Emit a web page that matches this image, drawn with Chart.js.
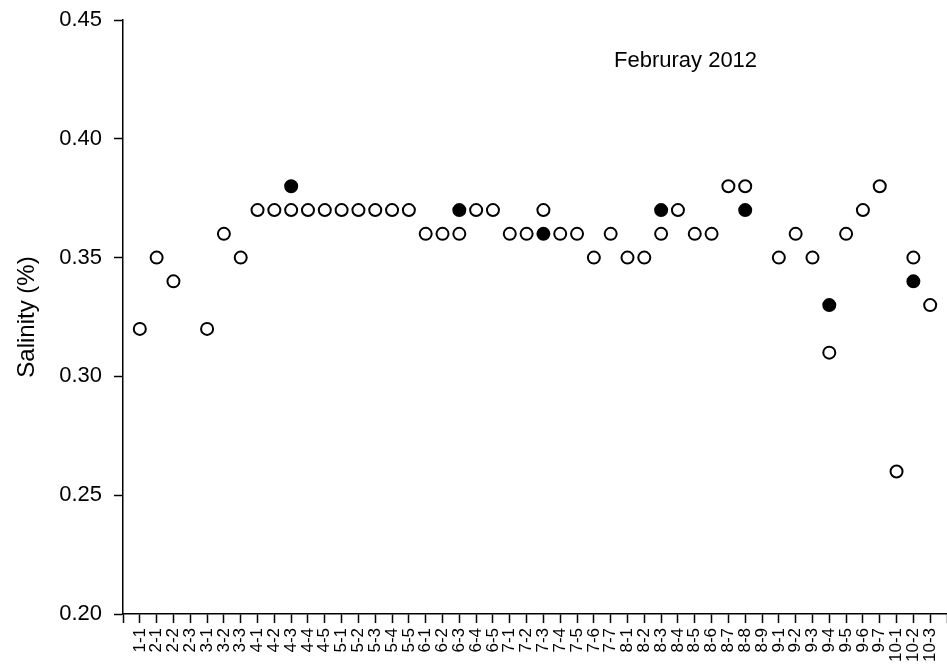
<!DOCTYPE html>
<html>
<head>
<meta charset="utf-8">
<script src="https://cdn.jsdelivr.net/npm/chart.js"></script>
<style>
    html, body { margin: 0; padding: 0; background: #fff; }
    #chart { display: block; }
</style>
</head>
<body>
<canvas id="chart" width="947" height="668"></canvas>
<script>
// sample stations (month-site)
const stations = ['1-1', '2-1', '2-2', '2-3', '3-1', '3-2', '3-3',
    '4-1', '4-2', '4-3', '4-4', '4-5', '5-1', '5-2', '5-3', '5-4', '5-5',
    '6-1', '6-2', '6-3', '6-4', '6-5', '7-1', '7-2', '7-3', '7-4', '7-5', '7-6', '7-7',
    '8-1', '8-2', '8-3', '8-4', '8-5', '8-6', '8-7', '8-8', '8-9',
    '9-1', '9-2', '9-3', '9-4', '9-5', '9-6', '9-7', '10-1', '10-2', '10-3'];

// open circles
const openSalinity = [0.32, 0.35, 0.34, null, 0.32, 0.36, 0.35,
    0.37, 0.37, 0.37, 0.37, 0.37, 0.37, 0.37, 0.37, 0.37, 0.37,
    0.36, 0.36, 0.36, 0.37, 0.37, 0.36, 0.36, 0.37, 0.36, 0.36, 0.35, 0.36,
    0.35, 0.35, 0.36, 0.37, 0.36, 0.36, 0.38, 0.38, null,
    0.35, 0.36, 0.35, 0.31, 0.36, 0.37, 0.38, 0.26, 0.35, 0.33];

// filled circles
const filledSalinity = [null, null, null, null, null, null, null,
    null, null, 0.38, null, null, null, null, null, null, null,
    null, null, 0.37, null, null, null, null, 0.36, null, null, null, null,
    null, null, 0.37, null, null, null, null, 0.37, null,
    null, null, null, 0.33, null, null, null, null, 0.34, null];

const yTicks = [0.20, 0.25, 0.30, 0.35, 0.40, 0.45];
const chartLabel = 'Februray 2012';

const FONT = "'Liberation Sans', Arial, Helvetica, sans-serif";

const toPoints = arr => arr.map((v, i) => ({ x: i, y: v }));

const labelPlugin = {
    id: 'labelText',
    afterDraw(chart) {
        const { ctx, chartArea } = chart;
        ctx.save();
        ctx.fillStyle = '#000';
        ctx.font = '22px ' + FONT;
        ctx.textAlign = 'left';
        ctx.textBaseline = 'middle';
        ctx.fillText(chartLabel, chartArea.left + 491, chartArea.top + 41);
        ctx.restore();
    }
};

new Chart(document.getElementById('chart'), {
    type: 'scatter',
    data: {
        datasets: [
            {
                label: 'open',
                data: toPoints(openSalinity),
                pointRadius: 6,
                pointBorderWidth: 2,
                borderColor: '#000',
                backgroundColor: '#fff',
                pointBackgroundColor: '#fff',
                pointBorderColor: '#000'
            },
            {
                label: 'filled',
                data: toPoints(filledSalinity),
                pointRadius: 6,
                pointBorderWidth: 2,
                borderColor: '#000',
                backgroundColor: '#000',
                pointBackgroundColor: '#000',
                pointBorderColor: '#000'
            }
        ]
    },
    options: {
        responsive: false,
        animation: false,
        devicePixelRatio: 1,
        clip: false,
        layout: { autoPadding: false, padding: { top: 20, right: 0, bottom: 0, left: 0 } },
        plugins: {
            legend: { display: false },
            tooltip: { enabled: false }
        },
        scales: {
            x: {
                type: 'linear',
                min: -1,
                max: stations.length,
                afterBuildTicks: scale => {
                    const t = [];
                    for (let i = -1; i <= stations.length; i++) t.push({ value: i });
                    scale.ticks = t;
                },
                afterFit: scale => {
                    scale.height = 54;
                    scale.paddingLeft = 0;
                    scale.paddingRight = 0;
                },
                ticks: {
                    autoSkip: false,
                    maxRotation: 90,
                    minRotation: 90,
                    padding: 5,
                    color: '#000',
                    font: { family: FONT, size: 17 },
                    callback: v => stations[v] || ''
                },
                grid: {
                    drawOnChartArea: false,
                    drawTicks: true,
                    tickLength: 9,
                    tickWidth: 1.5,
                    tickColor: '#000'
                },
                border: { display: true, color: '#000', width: 1.5 }
            },
            y: {
                min: 0.2,
                max: 0.45,
                afterBuildTicks: scale => {
                    scale.ticks = yTicks.map(v => ({ value: v }));
                },
                afterFit: scale => {
                    scale.width = 123;
                    scale.paddingTop = 0;
                    scale.paddingBottom = 0;
                },
                ticks: {
                    padding: 12,
                    color: '#000',
                    font: { family: FONT, size: 22 },
                    callback: v => Number(v).toFixed(2)
                },
                grid: {
                    drawOnChartArea: false,
                    drawTicks: true,
                    tickLength: 9,
                    tickWidth: 1.5,
                    tickColor: '#000'
                },
                border: { display: true, color: '#000', width: 1.5 },
                title: {
                    display: true,
                    text: 'Salinity (%)',
                    color: '#000',
                    font: { family: FONT, size: 24 },
                    padding: { top: 13, bottom: 0 }
                }
            }
        }
    },
    plugins: [labelPlugin]
});
</script>
</body>
</html>
